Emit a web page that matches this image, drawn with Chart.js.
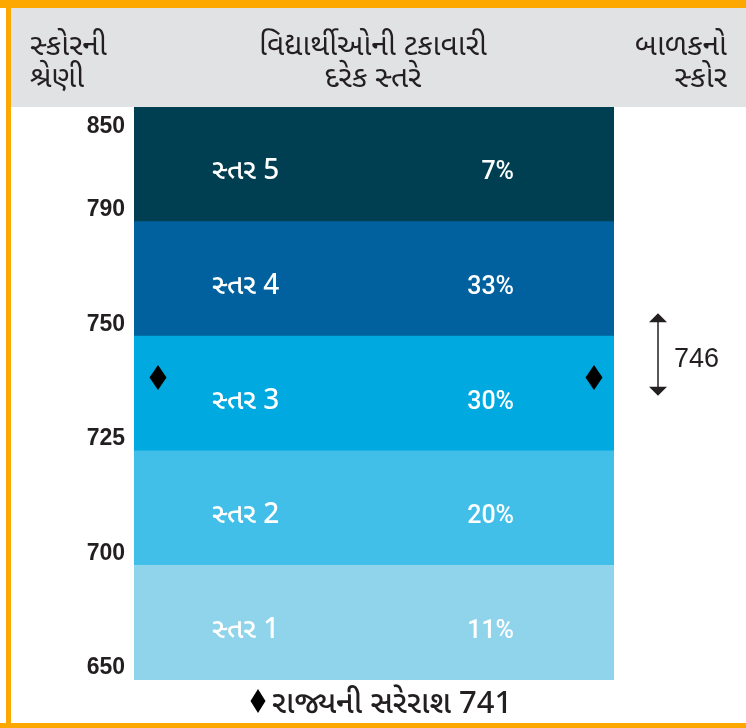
<!DOCTYPE html>
<html>
<head>
<meta charset="utf-8">
<script src="https://cdn.jsdelivr.net/npm/chart.js@4"></script>
<style>
  html, body { margin: 0; padding: 0; background: #fff; }
  #wrap { width: 746px; height: 728px; position: relative; }
</style>
</head>
<body>
<div id="wrap"><canvas id="levelsChart" width="746" height="728"></canvas></div>
<script>
const levelNames = ["સ્તર 1", "સ્તર 2", "સ્તર 3", "સ્તર 4", "સ્તર 5"];
const levelPercents = [11, 20, 30, 33, 7];
const scoreBounds = [650, 700, 725, 750, 790, 850];
const levelColors = ["#8fd4eb", "#41bfe8", "#00a9e0", "#00619e", "#003f52"];
const stateAverage = 741;
const childScore = 746;
const childRange = [737, 758];

const headerLeft = ["સ્કોરની", "શ્રેણી"];
const headerMid = ["વિદ્યાર્થીઓની ટકાવારી", "દરેક સ્તરે"];
const headerRight = ["બાળકનો", "સ્કોર"];
const legendText = "રાજ્યની સરેરાશ " + stateAverage;

const guFont = '"Noto Sans Gujarati", "Lohit Gujarati", "Noto Sans", sans-serif';
const numFont = '"Liberation Sans", Arial, sans-serif';

// each level band takes one unit on the y axis, whatever its score width
function scoreToAxis(s) {
  for (let i = 0; i < scoreBounds.length - 1; i++) {
    if (s <= scoreBounds[i + 1]) {
      return i + (s - scoreBounds[i]) / (scoreBounds[i + 1] - scoreBounds[i]);
    }
  }
  return scoreBounds.length - 1;
}

function diamond(ctx, x, y, w, h) {
  ctx.beginPath();
  ctx.moveTo(x, y - h / 2);
  ctx.lineTo(x + w / 2, y);
  ctx.lineTo(x, y + h / 2);
  ctx.lineTo(x - w / 2, y);
  ctx.closePath();
  ctx.fill();
}

const framePlugin = {
  id: "frame",
  beforeDraw(chart) {
    const ctx = chart.ctx;
    ctx.save();
    ctx.fillStyle = "#ffffff";
    ctx.fillRect(0, 0, chart.width, chart.height);
    ctx.fillStyle = "#e1e2e4";
    ctx.fillRect(11, 8, chart.width - 11, 99);
    ctx.fillStyle = "#fca800";
    ctx.fillRect(0, 0, chart.width, 8);
    ctx.fillRect(6, 0, 5, chart.height);
    ctx.fillRect(0, 723, chart.width, 5);

    ctx.fillStyle = "#231f20";
    ctx.font = "30px " + guFont;
    ctx.textBaseline = "middle";
    ctx.textAlign = "left";
    ctx.fillText(headerLeft[0], 30, 49);
    ctx.fillText(headerLeft[1], 30, 81);
    ctx.textAlign = "center";
    ctx.fillText(headerMid[0], 373, 49);
    ctx.fillText(headerMid[1], 373, 81);
    ctx.textAlign = "right";
    ctx.fillText(headerRight[0], 727, 49);
    ctx.fillText(headerRight[1], 727, 81);
    ctx.restore();
  },
  afterDatasetsDraw(chart) {
    const ctx = chart.ctx;
    const y = chart.scales.y;
    const area = chart.chartArea;
    ctx.save();

    // score ticks at the band edges
    ctx.fillStyle = "#231f20";
    ctx.font = "bold 23px " + numFont;
    ctx.textAlign = "right";
    ctx.textBaseline = "middle";
    scoreBounds.forEach((s, i) => {
      const py = y.getPixelForValue(i);
      const off = i === scoreBounds.length - 1 ? 20 : -12;
      ctx.fillText(String(s), 125, py + off);
    });

    // level names and percentages, on a shared baseline
    ctx.fillStyle = "#ffffff";
    ctx.textBaseline = "alphabetic";
    levelNames.forEach((name, i) => {
      const py = (y.getPixelForValue(i) + y.getPixelForValue(i + 1)) / 2 + 15;
      ctx.font = "500 28px " + guFont;
      ctx.textAlign = "left";
      ctx.fillText(name, 212, py);
      ctx.font = "500 25px Roboto, " + numFont;
      ctx.textAlign = "right";
      ctx.fillText(levelPercents[i] + "%", 514, py);
    });
    ctx.textBaseline = "middle";

    // state average diamonds
    ctx.fillStyle = "#000000";
    const ay = y.getPixelForValue(scoreToAxis(stateAverage));
    diamond(ctx, area.left + 24, ay, 17, 25);
    diamond(ctx, area.right - 20, ay, 17, 25);

    // child score range arrow
    const ax = 658;
    const top = y.getPixelForValue(scoreToAxis(childRange[1]));
    const bot = y.getPixelForValue(scoreToAxis(childRange[0]));
    ctx.strokeStyle = "#231f20";
    ctx.lineWidth = 1.5;
    ctx.beginPath();
    ctx.moveTo(ax, top + 6);
    ctx.lineTo(ax, bot - 6);
    ctx.stroke();
    ctx.fillStyle = "#231f20";
    ctx.beginPath();
    ctx.moveTo(ax, top);
    ctx.lineTo(ax + 9, top + 9);
    ctx.lineTo(ax - 9, top + 9);
    ctx.closePath();
    ctx.fill();
    ctx.beginPath();
    ctx.moveTo(ax, bot);
    ctx.lineTo(ax + 9, bot - 9);
    ctx.lineTo(ax - 9, bot - 9);
    ctx.closePath();
    ctx.fill();
    ctx.font = "27px " + numFont;
    ctx.textAlign = "left";
    ctx.fillText(String(childScore), 674, y.getPixelForValue(scoreToAxis(childScore)) + 5);

    // legend
    ctx.fillStyle = "#000000";
    diamond(ctx, 258, 701, 15, 24);
    ctx.fillStyle = "#231f20";
    ctx.font = "500 31px " + guFont;
    ctx.textAlign = "left";
    ctx.fillText(legendText, 272, 707);
    ctx.restore();
  }
};

const datasets = levelNames.map((name, i) => ({
  label: name,
  data: [[scoreToAxis(scoreBounds[i]), scoreToAxis(scoreBounds[i + 1])]],
  backgroundColor: levelColors[i],
  borderWidth: 0,
  barPercentage: 1,
  categoryPercentage: 1,
  borderSkipped: false
}));

new Chart(document.getElementById("levelsChart"), {
  type: "bar",
  data: { labels: ["levels"], datasets: datasets },
  options: {
    responsive: false,
    animation: false,
    layout: { padding: { left: 134, right: 132, top: 107, bottom: 48 } },
    scales: {
      x: { display: false, stacked: true },
      y: { display: false, stacked: false, min: 0, max: scoreBounds.length - 1 }
    },
    plugins: {
      legend: { display: false },
      tooltip: { enabled: false }
    }
  },
  plugins: [framePlugin]
});
</script>
</body>
</html>
